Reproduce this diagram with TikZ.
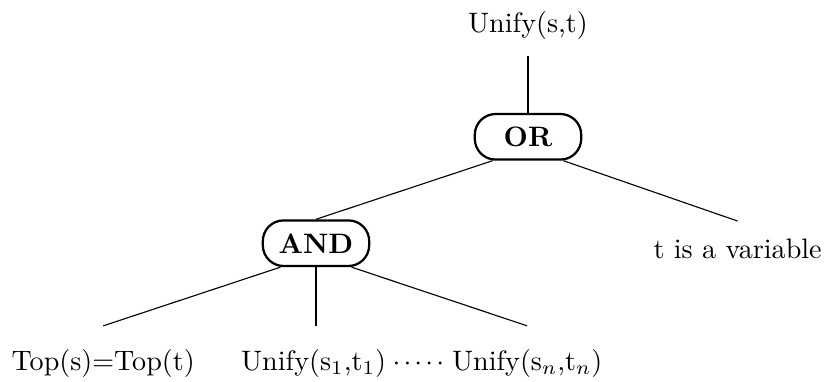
\documentclass[tikz,border=0pt]{standalone}
\usepackage{amsmath,amssymb}
\usetikzlibrary{calc, positioning}

\begin{document}
\begin{tikzpicture}[
  op/.style={draw, thick, rounded corners=0.26cm, minimum width=1.33cm, minimum height=0.57cm, font=\bfseries},
  leaf/.style={anchor=base, inner ysep=6pt},
  ln/.style={thin}
]
\useasboundingbox (0,0) rectangle (10.3375,-4.7625);
\node (u) [leaf] at (6.6,-0.4) {Unify(s,t)};
\node (or) [op] at (6.6,-1.71) {OR};
\node (and) [op] at (3.95,-3.04) {AND};
\node (var) [leaf] at (9.22,-3.225) {t is a variable};
\node (top) [leaf, inner ysep=8pt] at (1.29,-4.625) {Top(s)=Top(t)};
\node (u1) [leaf, inner ysep=8pt] at (3.92,-4.625) {Unify(s$_1$,t$_1$)};
\node (dd) [leaf] at (5.23,-4.625) {${\cdot}\mkern2mu{\cdot}\mkern2mu{\cdot}\mkern2mu{\cdot}\mkern2mu{\cdot}$};
\node (un) [leaf, inner ysep=8pt] at (6.59,-4.625) {Unify(s$_n$,t$_n$)};
\draw[ln] (u.south) -- (or.north);
\draw[ln] (or.214) -- (and.north); \draw[ln] (or.326) -- (var.north);
\draw[ln] (and.214) -- (top.north); \draw[ln] (and.south) -- (and.south |- u1.north); \draw[ln] (and.326) -- (un.north);
\end{tikzpicture}
\end{document}
